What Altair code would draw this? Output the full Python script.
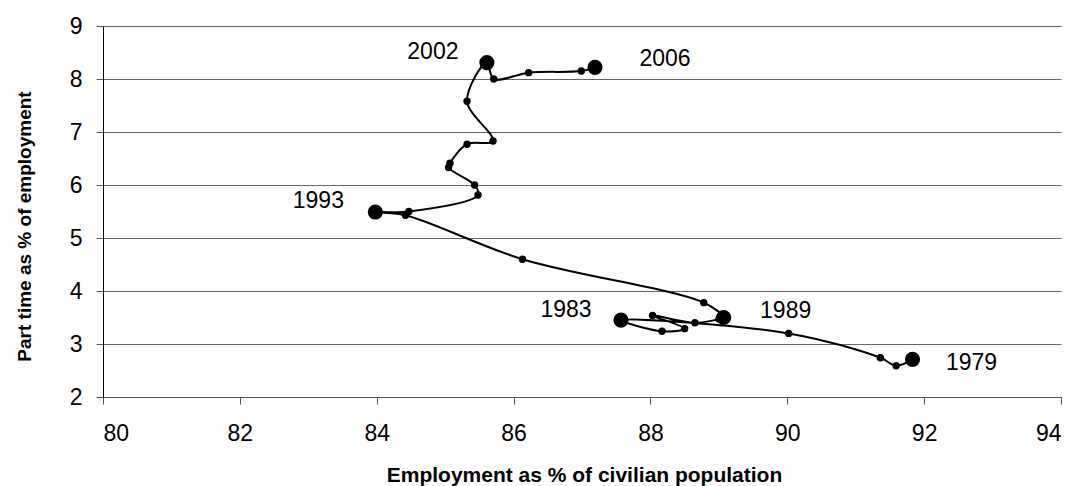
import altair as alt
import pandas as pd

years = list(range(1979, 2007))
employment = [91.83, 91.59, 91.36, 90.02, 87.57, 88.17, 88.50, 88.03, 88.65, 89.00,
              89.07, 88.78, 86.13, 84.42, 83.98, 84.47, 85.48, 85.43, 85.05, 85.07,
              85.32, 85.70, 85.32, 85.61, 85.71, 86.22, 86.99, 87.19]
part_time = [2.71, 2.59, 2.74, 3.20, 3.45, 3.24, 3.29, 3.54, 3.40, 3.47,
             3.50, 3.78, 4.60, 5.43, 5.49, 5.50, 5.81, 6.00, 6.33, 6.41,
             6.77, 6.83, 7.58, 8.31, 8.00, 8.12, 8.15, 8.22]
labelled_years = [1979, 1983, 1989, 1993, 2002, 2006]
x_ticks = [80, 82, 84, 86, 88, 90, 92, 94]
y_ticks = [2, 3, 4, 5, 6, 7, 8, 9]

df = pd.DataFrame({"year": years, "emp": employment, "pt": part_time})
df["big"] = df["year"].isin(labelled_years)

FONT = "Liberation Sans"

x_enc = alt.X("emp:Q", scale=alt.Scale(domain=[80, 94], nice=False, zero=False),
              axis=alt.Axis(values=x_ticks, format="d",
                            title="Employment as % of civilian population",
                            grid=False, tickSize=7, labelPadding=18, labelFontSize=23,
                            labelFont=FONT, labelColor="black", tickColor="#555",
                            domainColor="#555", titleFont=FONT, titleFontSize=21,
                            titleFontWeight="bold", titleColor="black",
                            titleX=481, titleY=84, titleBaseline="alphabetic",
                            titleAlign="center"))
y_enc = alt.Y("pt:Q", scale=alt.Scale(domain=[2, 9], nice=False, zero=False),
              axis=alt.Axis(values=y_ticks, format="d",
                            title="Part time as % of employment",
                            grid=True, gridColor="#666", gridWidth=1, gridOpacity=1,
                            tickSize=7, labelPadding=14, labelFontSize=23,
                            labelFont=FONT, labelColor="black", tickColor="#555",
                            domainColor="black", titleFont=FONT, titleFontSize=19,
                            titleFontWeight="bold", titleColor="black",
                            titleX=-79, titleY=200, titleBaseline="middle",
                            titleAlign="center", titleAngle=-90))

base = alt.Chart(df)

line = base.mark_line(color="black", strokeWidth=2, interpolate="catmull-rom").encode(
    x=x_enc, y=y_enc, order="year:O")

small = base.transform_filter("!datum.big").mark_circle(
    color="black", opacity=1, size=55).encode(x="emp:Q", y="pt:Q")
bigdots = base.transform_filter("datum.big").mark_circle(
    color="black", opacity=1, size=230).encode(x="emp:Q", y="pt:Q")

offsets = {1979: (59, 4), 1983: (-55, -10), 1989: (62, -7),
           1993: (-57, -11), 2002: (-54, -11), 2006: (70, -8)}
labels = []
for yr in labelled_years:
    dx, dy = offsets[yr]
    labels.append(
        base.transform_filter(f"datum.year == {yr}").mark_text(
            font=FONT, fontSize=23, color="black", align="center",
            baseline="middle", dx=dx, dy=dy).encode(
            x="emp:Q", y="pt:Q", text="year:N"))

chart = alt.layer(line, small, bigdots, *labels).properties(
    width=958, height=371,
    autosize=alt.AutoSizeParams(type="none"),
    padding={"left": 103, "top": 26, "right": 16, "bottom": 89},
    background="white",
).configure_view(stroke=None)

chart.save("out.html", embed_options={"renderer": "svg", "actions": False})
